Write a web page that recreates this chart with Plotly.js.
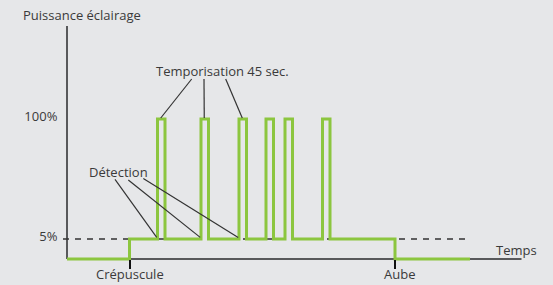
<!DOCTYPE html>
<html>
<head>
<meta charset="utf-8">
<script src="https://cdn.plot.ly/plotly-3.0.1.min.js"></script>
<style>
  html, body { margin: 0; padding: 0; background: #e6e7e9; }
  #chart { width: 553px; height: 285px; }
</style>
</head>
<body>
<div id="chart"></div>
<script>
// ---- Data (schematic time units, schematic power levels) ----
const levelLabels = ['5%', '100%'];
const levelValues = [1, 7];           // off = 0, reduced = 1, full = 7
const eventNames = ['Crépuscule', 'Aube'];
const eventTimes = [62.5, 328];
const pulseStarts = [90.5, 134, 172, 199, 218, 255.5];
const pulseDuration = 7.5;            // "Temporisation 45 sec."
const startTime = 0;
const endTime = 403;
const axisEndTime = 454.5;
const axisTopLevel = 11.65;
const dashStart = -4;
const dashEnd = 399;

// ---- Build step series ----
const off = 0, low = levelValues[0], high = levelValues[1];
const xs = [startTime, eventTimes[0], eventTimes[0]];
const ys = [off, off, low];
pulseStarts.forEach(s => {
  xs.push(s, s, s + pulseDuration, s + pulseDuration);
  ys.push(low, high, high, low);
});
xs.push(eventTimes[1], eventTimes[1], endTime);
ys.push(low, off, off);

const trace = {
  x: xs, y: ys, type: 'scatter', mode: 'lines',
  line: { color: '#8cc63f', width: 3, shape: 'linear' },
  hoverinfo: 'skip'
};

const txt = '#3a3a3a';
const shapes = [
  // axes
  { type: 'line', xref: 'x', yref: 'y', x0: 0, y0: 0, x1: axisEndTime, y1: 0, line: { color: '#58595b', width: 2 }, layer: 'below' },
  { type: 'line', xref: 'x', yref: 'y', x0: 0, y0: 0, x1: 0, y1: axisTopLevel, line: { color: '#58595b', width: 2 }, layer: 'below' },
  // 5% reference dashed line
  { type: 'line', xref: 'x', yref: 'y', x0: dashStart, y0: low, x1: dashEnd, y1: low, line: { color: '#333', width: 1.3, dash: '6px,6px' }, layer: 'below' }
];

// callouts: Temporisation -> first three pulse tops
const tempoTails = [124.7, 137, 158.7];
tempoTails.forEach((tx, i) => {
  const s = pulseStarts[i];
  shapes.push({ type: 'line', xref: 'x', yref: 'y', x0: tx, y0: 9.0, x1: s + pulseDuration / 2 - 0.5, y1: high + 0.05,
    line: { color: '#333', width: 1.2 } });
});
// callouts: Détection -> first three pulse starts
const detTails = [[48, 3.98], [61.3, 3.95], [76.3, 4.03]];
detTails.forEach((t, i) => {
  const s = pulseStarts[i];
  shapes.push({ type: 'line', xref: 'x', yref: 'y', x0: t[0], y0: t[1], x1: s - 0.8, y1: low + 0.08,
    line: { color: '#333', width: 1.2 } });
});

const font = { family: '"Open Sans", "Noto Sans", sans-serif', size: 13, color: txt };

const annotations = [
  { text: 'Puissance éclairage', x: 14.5, y: 12.2, xref: 'x', yref: 'y', showarrow: false, font },
  { text: 'Temporisation 45 sec.', x: 155.7, y: 9.42, xref: 'x', yref: 'y', showarrow: false, font },
  { text: 'Détection', x: 51.3, y: 4.33, xref: 'x', yref: 'y', showarrow: false, font },
  { text: 'Temps', x: 449.5, y: 0.47, xref: 'x', yref: 'y', showarrow: false, font }
];
const eventLabelShift = [0, 4.5];
eventNames.forEach((n, i) => {
  annotations.push({ text: n, x: eventTimes[i] + eventLabelShift[i], y: -0.77, xref: 'x', yref: 'y', showarrow: false, font });
});

const layout = {
  width: 553, height: 285,
  margin: { l: 50, r: 8, t: 10, b: 10 },
  paper_bgcolor: '#e6e7e9', plot_bgcolor: '#e6e7e9',
  showlegend: false,
  font,
  xaxis: {
    range: [-17, 478], showgrid: false, zeroline: false, showline: false,
    anchor: 'free', position: 16 / 265,
    tickmode: 'array', tickvals: eventTimes, ticktext: eventNames, showticklabels: false,
    ticks: 'outside', ticklen: 9, tickwidth: 2, tickcolor: '#111',
    fixedrange: true
  },
  yaxis: {
    range: [-0.8, 12.45], showgrid: false, zeroline: false, showline: false,
    anchor: 'free', position: 17 / 495,
    tickmode: 'array', tickvals: levelValues, ticktext: levelLabels,
    ticks: 'outside', ticklen: 7, tickcolor: 'rgba(0,0,0,0)', ticklabelshift: -3,
    tickfont: font, fixedrange: true
  },
  shapes, annotations
};

Plotly.newPlot('chart', [trace], layout, { staticPlot: true, displayModeBar: false });
</script>
</body>
</html>
